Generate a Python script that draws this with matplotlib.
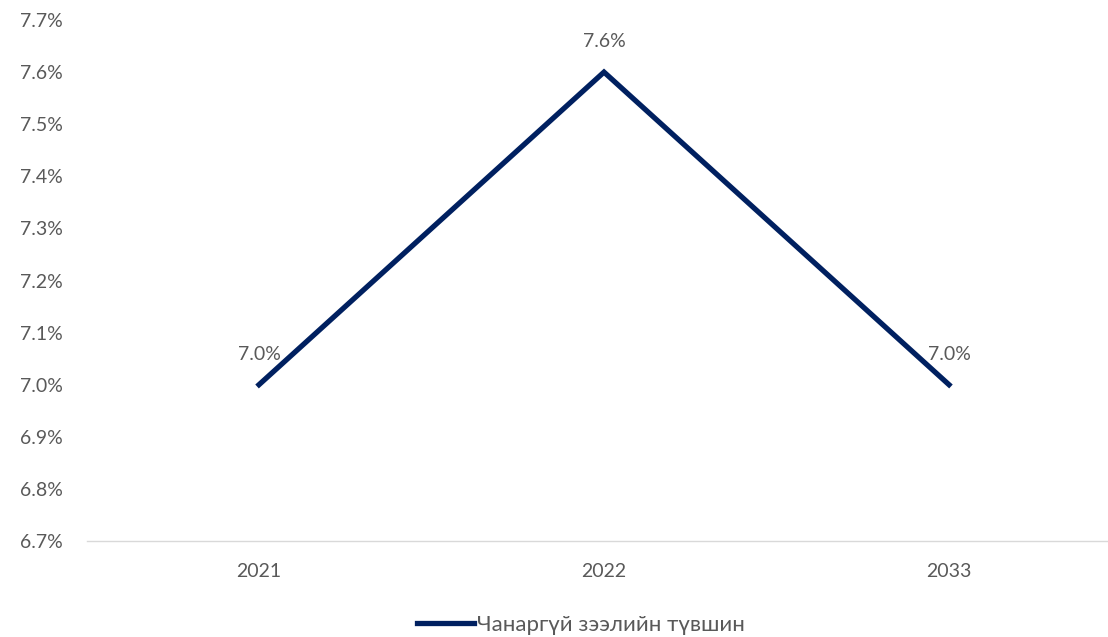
import matplotlib.pyplot as plt
from matplotlib.ticker import FuncFormatter

years = ["2021", "2022", "2033"]
rates = [7.0, 7.6, 7.0]
series_name = "Чанаргүй зээлийн түвшин"

navy = "#002060"
grey = "#595959"

plt.rcParams['font.family'] = ['Lato', 'DejaVu Sans']

fig = plt.figure(figsize=(11.08, 6.37), dpi=100)
ax = fig.add_axes([86.5 / 1108, 96 / 637, 1035 / 1108, 521 / 637])

x = list(range(len(years)))
line, = ax.plot(x, rates, color=navy, linewidth=3.8, solid_joinstyle='miter',
                label=series_name)
for xi, v in zip(x, rates):
    ax.annotate(f"{v:.1f}%", (xi, v), xytext=(0, 22), textcoords='offset points',
                ha='center', va='center', fontsize=14, color=grey)

ax.set_xlim(-0.5, 2.5)
ax.set_ylim(6.7, 7.7)
ax.set_yticks([6.7 + 0.1 * i for i in range(11)])
ax.yaxis.set_major_formatter(FuncFormatter(lambda v, p: f"{v:.1f}%"))
ax.set_xticks(x)
ax.set_xticklabels(years)
ax.tick_params(axis='both', length=0, labelsize=14, labelcolor=grey)
ax.tick_params(axis='x', pad=16)
ax.tick_params(axis='y', pad=17)
for s in ['top', 'right', 'left']:
    ax.spines[s].set_visible(False)
ax.spines['bottom'].set_color('#d9d9d9')
ax.spines['bottom'].set_linewidth(1)

fig.legend(handles=[line], loc='center', bbox_to_anchor=(581 / 1108, 1 - 625 / 637),
           frameon=False, prop={'size': 16}, labelcolor=grey, handlelength=2.55,
           handletextpad=0.12)

fig.savefig("out.png", dpi=100)
